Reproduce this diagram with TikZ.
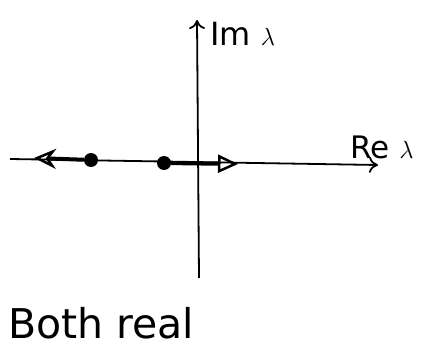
\documentclass[tikz,border=0pt]{standalone}
\usepackage{fontspec}
\setmainfont{DejaVu Sans}
\usetikzlibrary{arrows.meta}
\begin{document}
\begin{tikzpicture}[x=1pt,y=-1pt,
  axis/.style={line width=1.8pt,-{To[length=9pt,width=16pt]}},
  flow/.style={line width=4pt},
  root/.style={circle,fill=black,inner sep=0pt,minimum size=14pt},
  lbl/.style={inner sep=0pt}]
\useasboundingbox (0,0) rectangle (428,350);
\coordinate (xl) at (10,159);
\coordinate (xr) at (378,165);
\coordinate (yb) at (199,278);
\coordinate (yt) at (197,20);
\draw[axis] (xl) -- (xr);
\draw[axis] (yb) -- (yt);
\node[root] (r1) at (91,160) {};
\node[root] (r2) at (164,163) {};
\coordinate (e1) at (34,158);
\coordinate (e2) at (238,164);
\draw[flow,-{Stealth[length=22pt,width=20pt,open,line width=2.5pt]}] (r1) -- (e1);
\draw[flow,-{Triangle[length=20pt,width=18pt,open,line width=2.5pt]}] (r2) -- (e2);
\node[lbl,anchor=west,font=\fontsize{32}{34}\selectfont] (im) at (210,34) {Im $\lambda$};
\node[lbl,anchor=west,font=\fontsize{31}{34}\selectfont] (re) at (350,147) {Re $\lambda$};
\node[lbl,anchor=west,font=\fontsize{41}{44}\selectfont] (cap) at (8,323) {Both real};
\end{tikzpicture}
\end{document}
